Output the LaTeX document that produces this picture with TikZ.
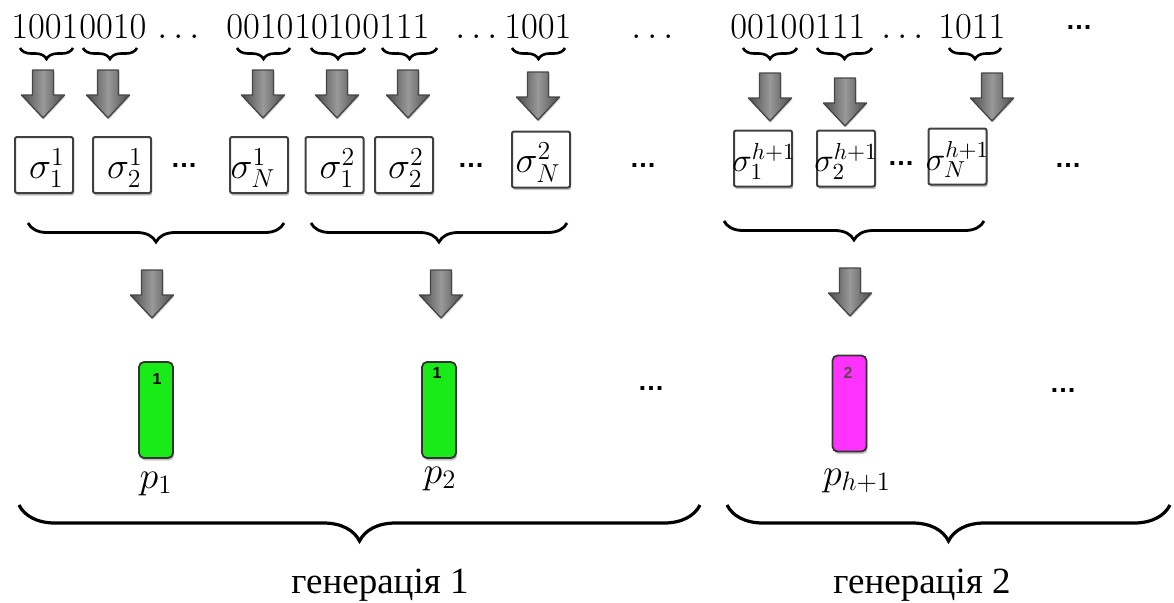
\RequirePackage{fix-cm}
\documentclass[tikz,border=0pt]{standalone}
\usepackage{fontspec}
\newfontfamily\cyrserif{Liberation Serif}
\newfontfamily\dotsans{Liberation Sans}
\usetikzlibrary{shadows,decorations.pathreplacing}

% gene label set inside its box: horizontal offset, then the formula
\newcommand\genetext[2]{\makebox[0pt]{\hspace*{#1}\raisebox{0pt}[\dimexpr\height+3pt\relax][\depth]{#2}}}

\tikzset{
  bits/.style={inner sep=0pt, anchor=base west, font=\fontsize{18.3}{20}\selectfont},
  plabel/.style={inner sep=0pt, anchor=base, font=\fontsize{19}{20}\selectfont},
  genlabel/.style={inner sep=0pt, anchor=base, font=\cyrserif\fontsize{18.5}{22}\selectfont},
  sdots/.style={inner sep=0pt, font=\dotsans\bfseries\fontsize{13.5}{14}\selectfont},
  barnum/.style={inner sep=0pt, font=\dotsans\bfseries\fontsize{8}{9}\selectfont},
  softshadow/.style={drop shadow={shadow xshift=0.6pt, shadow yshift=-1.3pt, opacity=0.45}},
  sbox/.style={draw=black!75, line width=1pt, fill=white, rounded corners=1pt,
    minimum width=29pt, minimum height=28pt, inner sep=0pt, softshadow,
    font=\fontsize{18.5}{20}\selectfont},
  sboxsmall/.style={sbox, font=\fontsize{16.5}{18}\selectfont},
  bar/.style={draw=black!80, line width=0.9pt, rounded corners=2.5pt,
    minimum width=17pt, minimum height=48pt, inner sep=0pt, softshadow},
  tbrace/.style={decorate, decoration={brace, mirror, amplitude=5.5pt}, line width=1.3pt},
  mbrace/.style={decorate, decoration={brace, mirror, amplitude=9.5pt}, line width=1.4pt},
  bbrace/.style={decorate, decoration={brace, mirror, amplitude=18pt}, line width=1.6pt},
  blockarrow/.pic={
    \path[draw=black!72, line width=0.7pt, line join=round,
      left color=black!70, right color=black!70, middle color=black!40,
      drop shadow={shadow xshift=0.5pt, shadow yshift=-0.8pt, opacity=0.3}]
      (-10.5,0) -- (10.5,0) -- (10.5,-25) -- (21.5,-25) -- (0,-48)
      -- (-21.5,-25) -- (-10.5,-25) -- cycle;
  }
}
\definecolor{bargreen}{RGB}{25,235,25}
\definecolor{barmagenta}{RGB}{255,50,255}

\begin{document}
\begin{tikzpicture}[x=0.5pt, y=0.5pt]
\useasboundingbox (0,0) rectangle (1174,-602);

% ---- bit strings ----
\node[bits] (c1) at (11,-38)  {$1001$};
\node[bits] (c2) at (c1.base east) {$0010$};
\node[bits] (e1) at (157,-38) {$\ldots$};
\node[bits] (c3) at (226,-38) {$0010$};
\node[bits] (c4) at (c3.base east) {$1010$};
\node[bits] (c5) at (c4.base east) {$0111$};
\node[bits] (e2) at (455,-38) {$\ldots$};
\node[bits] (c6) at (504,-38) {$1001$};
\node[bits] (e3) at (631,-38) {$\ldots$};
\node[bits] (c7) at (730,-38) {$0010$};
\node[bits] (c8) at (c7.base east) {$0111$};
\node[bits] (e4) at (881,-38) {$\ldots$};
\node[bits] (c9) at (938,-38) {$1011$};
\node[sdots] (d0) at (1079,-27) {…};

% ---- braces under the bit groups ----
\draw[tbrace] (20,-48) -- (73,-48);
\draw[tbrace] (83,-48) -- (137,-48);
\draw[tbrace] (237,-48) -- (290,-48);
\draw[tbrace] (311,-48) -- (365,-48);
\draw[tbrace] (382,-48) -- (437,-48);
\draw[tbrace] (512,-48) -- (565,-48);
\draw[tbrace] (743,-48) -- (797,-48);
\draw[tbrace] (817,-48) -- (872,-48);
\draw[tbrace] (949,-48) -- (1001,-48);

% ---- arrows from groups to genes ----
\pic at (43,-70)  {blockarrow};
\pic at (108,-70) {blockarrow};
\pic at (263,-70) {blockarrow};
\pic at (337,-70) {blockarrow};
\pic at (408,-70) {blockarrow};
\pic at (538,-72) {blockarrow};
\pic at (770,-73) {blockarrow};
\pic at (845,-78) {blockarrow};
\pic at (992,-73) {blockarrow};

% ---- gene boxes ----
\node[sbox] (s1) at (44,-165)      {\genetext{3pt}{$\sigma^1_1$}};
\node[sbox] (s2) at (122,-165)     {\genetext{3pt}{$\sigma^1_2$}};
\node[sbox] (s3) at (259,-165)     {\genetext{-6pt}{$\sigma^1_N$}};
\node[sbox] (s4) at (334.5,-165)   {\genetext{3pt}{$\sigma^2_1$}};
\node[sbox] (s5) at (404,-165)     {\genetext{2pt}{$\sigma^2_2$}};
\node[sbox] (s6) at (541,-159.5)   {\genetext{-3pt}{$\sigma^2_N$}};
\node[sboxsmall] (s7) at (763,-158.5)   {\genetext{1pt}{$\sigma^{h+1}_1$}};
\node[sboxsmall] (s8) at (846,-158.5)   {\genetext{0pt}{$\sigma^{h+1}_2$}};
\node[sboxsmall] (s9) at (957.5,-156.5) {\genetext{0pt}{$\sigma^{h+1}_N$}};

\node[sdots] (d1) at (184,-165) {…};
\node[sdots] (d2) at (471,-165) {…};
\node[sdots] (d3) at (643,-165) {…};
\node[sdots] (d4) at (901,-163) {…};
\node[sdots] (d5) at (1068,-165) {…};

% ---- braces grouping the genes of each individual ----
\draw[mbrace] (28,-223) -- (284,-223);
\draw[mbrace] (311,-223) -- (567,-223);
\draw[mbrace] (724,-221) -- (984,-221);

\pic at (152,-270) {blockarrow};
\pic at (441,-270) {blockarrow};
\pic at (850,-268) {blockarrow};

% ---- individuals ----
\node[bar, fill=bargreen] (p1) at (156,-410) {};
\node[bar, fill=bargreen] (p2) at (439,-410) {};
\node[bar, fill=barmagenta] (p3) at (849.5,-403.5) {};
\node[barnum] (n1) at (157,-379) {1};
\node[barnum] (n2) at (437,-373) {1};
\node[barnum, text=black!70!magenta] (n3) at (848,-373) {2};

\node[plabel] (l1) at (156,-488) {$p_1$};
\node[plabel] (l2) at (440,-483) {$p_2$};
\node[plabel] (l3) at (857,-485) {$p_{h+1}$};

\node[sdots] (d6) at (651,-388) {…};
\node[sdots] (d7) at (1063,-390) {…};

% ---- generations ----
\draw[bbrace] (19,-505) -- (700,-505);
\draw[bbrace] (727,-505) -- (1170,-505);

\node[genlabel] (g1) at (380,-593) {генерація 1};
\node[genlabel] (g2) at (922,-593) {генерація 2};
\end{tikzpicture}
\end{document}
